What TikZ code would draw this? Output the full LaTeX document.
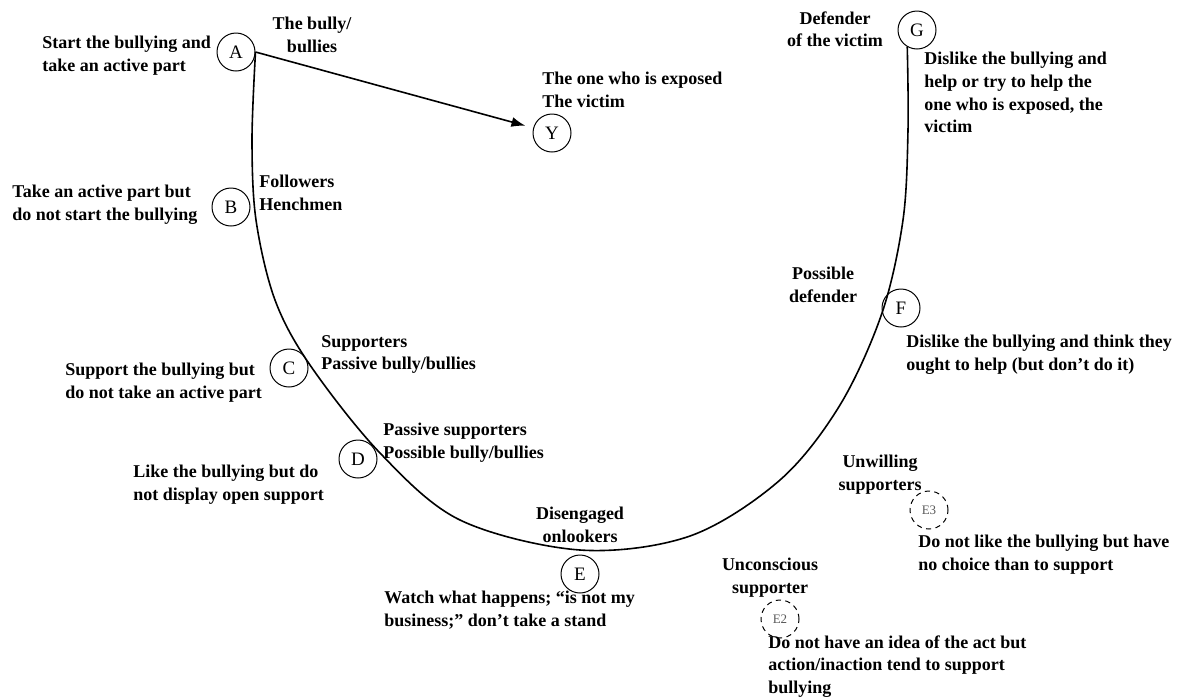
\documentclass[tikz,border=0pt]{standalone}
\usepackage{fontspec}
\setmainfont{Liberation Serif}
\usetikzlibrary{arrows.meta}
\tikzset{
  lbl/.style={circle,draw,line width=0.5pt,minimum size=19pt,inner sep=0pt,font=\fontsize{9.5}{11}\selectfont},
  dlbl/.style={circle,draw,dashed,dash pattern=on 2.6pt off 2.2pt,line width=0.5pt,minimum size=19pt,inner sep=0pt,text=black!65,font=\fontsize{6.5}{8}\selectfont},
  txt/.style={inner sep=0pt,align=left,anchor=north west,font=\bfseries\fontsize{9}{11.3}\selectfont},
  ctxt/.style={inner sep=0pt,align=center,anchor=north,font=\bfseries\fontsize{9}{11.3}\selectfont},
  curve/.style={line width=0.8pt},
  arr/.style={line width=0.8pt,-{Latex[length=7pt,width=5pt]},shorten >=4pt}
}
\begin{document}
\begin{tikzpicture}[x=0.5pt,y=-0.5pt]
\useasboundingbox (0,0) rectangle (1188,697);
% circles
\node[lbl] (A) at (236,52) {A};
\node[lbl] (Y) at (552,133) {Y};
\node[lbl] (G) at (917,30) {G};
\node[lbl] (B) at (231,207) {B};
\node[lbl] (C) at (289,368) {C};
\node[lbl] (D) at (358,459) {D};
\node[lbl] (E) at (580,574) {E};
\node[lbl] (F) at (901,308) {F};
\node[dlbl] (E3) at (929,510) {E3};
\node[dlbl] (E2) at (780,619) {E2};
% texts
\node[txt] (tA) at (42,36) {Start the bullying and\\take an active part};
\node[ctxt] (tA2) at (312,17) {The bully/\\bullies};
\node[txt] (tY) at (542,72) {The one who is exposed\\The victim};
\node[ctxt] (tG2) at (835,11) {Defender\\of the victim};
\node[txt] (tG) at (924,52) {Dislike the bullying and\\help or try to help the\\one who is exposed, the\\victim};
\node[txt] (tB) at (12,185) {Take an active part but\\do not start the bullying};
\node[txt] (tB2) at (259,175) {Followers\\Henchmen};
\node[txt] (tC) at (65,363) {Support the bullying but\\do not take an active part};
\node[txt] (tC2) at (321,335) {Supporters\\Passive bully/bullies};
\node[txt] (tD) at (133,465) {Like the bullying but do\\not display open support};
\node[txt] (tD2) at (383,423) {Passive supporters\\Possible bully/bullies};
\node[ctxt] (tE2x) at (580,507) {Disengaged\\onlookers};
\node[txt] (tE) at (384,591) {Watch what happens; “is not my\\business;” don’t take a stand};
\node[ctxt] (tF2) at (823,267) {Possible\\defender};
\node[txt] (tF) at (906,335) {Dislike the bullying and think they\\ought to help (but don’t do it)};
\node[ctxt] (tE32) at (880,455) {Unwilling\\supporters};
\node[txt] (tE3) at (918,535) {Do not like the bullying but have\\no choice than to support};
\node[ctxt] (tE22) at (770,558) {Unconscious\\supporter};
\node[txt] (tE2) at (768,635) {Do not have an idea of the act but\\action/inaction tend to support\\bullying};
% connectors
\draw[arr] (A.east) -- (Y);
\draw[curve] plot[smooth,tension=0.55] coordinates {(A.east) (252,140) (256,220) (275,300) (310,365) (380,453) (460,520) (580,550) (690,536) (780,480) (840,405) (882,313) (903,220) (908,130) (G.240)};
\end{tikzpicture}
\end{document}
